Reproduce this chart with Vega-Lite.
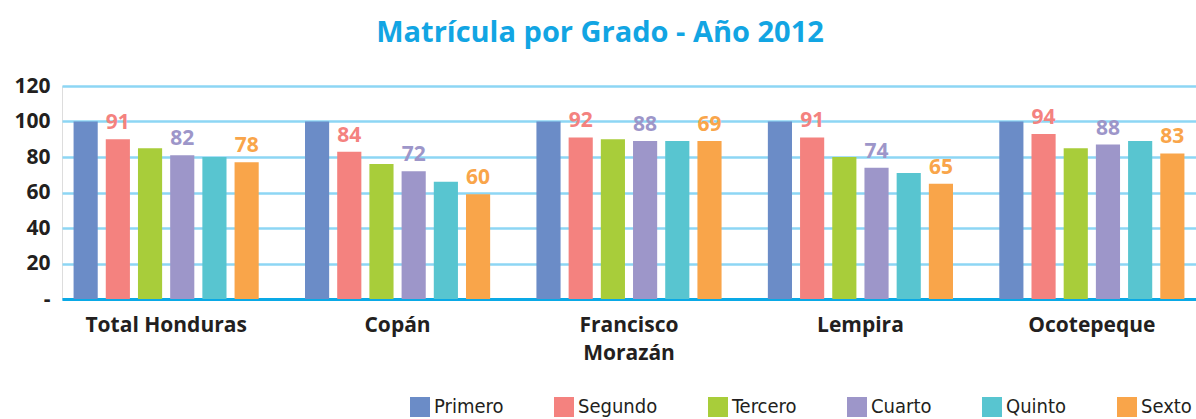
{
  "$schema": "https://vega.github.io/schema/vega-lite/v6.json",
  "autosize": {"type": "none"},
  "padding": {"left": 62, "top": 86, "right": 0, "bottom": 120},
  "width": 1134,
  "height": 213,
  "background": "white",
  "title": {"text": "Matrícula por Grado - Año 2012", "font": "Open Sans", "fontSize": 29, "fontWeight": "bold", "color": "#12a5e3", "anchor": "middle", "dx": -29, "offset": 27},
  "data": {"values": [
    {"region": "Total Honduras", "grado": "Primero", "valor": 100, "etiqueta": null},
    {"region": "Total Honduras", "grado": "Segundo", "valor": 90, "etiqueta": "91"},
    {"region": "Total Honduras", "grado": "Tercero", "valor": 85, "etiqueta": null},
    {"region": "Total Honduras", "grado": "Cuarto", "valor": 81, "etiqueta": "82"},
    {"region": "Total Honduras", "grado": "Quinto", "valor": 80, "etiqueta": null},
    {"region": "Total Honduras", "grado": "Sexto", "valor": 77, "etiqueta": "78"},
    {"region": "Copán", "grado": "Primero", "valor": 100, "etiqueta": null},
    {"region": "Copán", "grado": "Segundo", "valor": 83, "etiqueta": "84"},
    {"region": "Copán", "grado": "Tercero", "valor": 76, "etiqueta": null},
    {"region": "Copán", "grado": "Cuarto", "valor": 72, "etiqueta": "72"},
    {"region": "Copán", "grado": "Quinto", "valor": 66, "etiqueta": null},
    {"region": "Copán", "grado": "Sexto", "valor": 59, "etiqueta": "60"},
    {"region": "Francisco Morazán", "grado": "Primero", "valor": 100, "etiqueta": null},
    {"region": "Francisco Morazán", "grado": "Segundo", "valor": 91, "etiqueta": "92"},
    {"region": "Francisco Morazán", "grado": "Tercero", "valor": 90, "etiqueta": null},
    {"region": "Francisco Morazán", "grado": "Cuarto", "valor": 89, "etiqueta": "88"},
    {"region": "Francisco Morazán", "grado": "Quinto", "valor": 89, "etiqueta": null},
    {"region": "Francisco Morazán", "grado": "Sexto", "valor": 89, "etiqueta": "69"},
    {"region": "Lempira", "grado": "Primero", "valor": 100, "etiqueta": null},
    {"region": "Lempira", "grado": "Segundo", "valor": 91, "etiqueta": "91"},
    {"region": "Lempira", "grado": "Tercero", "valor": 80, "etiqueta": null},
    {"region": "Lempira", "grado": "Cuarto", "valor": 74, "etiqueta": "74"},
    {"region": "Lempira", "grado": "Quinto", "valor": 71, "etiqueta": null},
    {"region": "Lempira", "grado": "Sexto", "valor": 65, "etiqueta": "65"},
    {"region": "Ocotepeque", "grado": "Primero", "valor": 100, "etiqueta": null},
    {"region": "Ocotepeque", "grado": "Segundo", "valor": 93, "etiqueta": "94"},
    {"region": "Ocotepeque", "grado": "Tercero", "valor": 85, "etiqueta": null},
    {"region": "Ocotepeque", "grado": "Cuarto", "valor": 87, "etiqueta": "88"},
    {"region": "Ocotepeque", "grado": "Quinto", "valor": 89, "etiqueta": null},
    {"region": "Ocotepeque", "grado": "Sexto", "valor": 82, "etiqueta": "83"}
  ]},
  "encoding": {
    "x": {"field": "region", "type": "nominal", "sort": ["Total Honduras", "Copán", "Francisco Morazán", "Lempira", "Ocotepeque"],
      "scale": {"paddingInner": 0.2, "paddingOuter": 0.05},
      "axis": {"title": null, "labelAngle": 0, "domain": true, "domainColor": "#0aa9e6", "domainWidth": 3, "ticks": false,
        "labelFont": "Open Sans", "labelFontSize": 21, "labelFontWeight": "bold", "labelColor": "#231f20", "labelPadding": 15, "labelLineHeight": 28,
        "labelExpr": "datum.value == 'Francisco Morazán' ? ['Francisco', 'Morazán'] : datum.label"}},
    "xOffset": {"field": "grado", "type": "nominal", "sort": ["Primero", "Segundo", "Tercero", "Cuarto", "Quinto", "Sexto"],
      "scale": {"paddingInner": 0.25, "paddingOuter": 0}},
    "y": {"field": "valor", "type": "quantitative", "scale": {"domain": [0, 120], "nice": false},
      "axis": {"title": null, "values": [0, 20, 40, 60, 80, 100, 120], "domain": false, "ticks": false, "grid": true, "gridColor": "#8dd6f4", "gridWidth": 2.5,
        "labelFont": "Open Sans", "labelFontSize": 21, "labelFontWeight": "bold", "labelColor": "#231f20", "labelPadding": 12,
        "labelExpr": "datum.value == 0 ? '-' : datum.label"}},
    "color": {"field": "grado", "type": "nominal",
      "scale": {"domain": ["Primero", "Segundo", "Tercero", "Cuarto", "Quinto", "Sexto"], "range": ["#6b8cc7", "#f4827f", "#a8cd3a", "#9d96c9", "#58c5d0", "#f9a54a"]}}
  },
  "layer": [
    {"mark": {"type": "bar"},
     "encoding": {"color": {"field": "grado", "type": "nominal", "sort": ["Primero", "Segundo", "Tercero", "Cuarto", "Quinto", "Sexto"],
       "legend": {"orient": "none", "legendX": 348, "legendY": 311, "direction": "horizontal", "columns": 6, "title": null,
         "symbolType": "square", "symbolSize": 400, "symbolStrokeWidth": 0, "symbolOpacity": 1,
         "labelFont": "DejaVu Sans Condensed, Roboto, sans-serif", "labelFontSize": 20, "labelColor": "#231f20", "labelOffset": 4, "columnPadding": 50}}}},
    {"transform": [{"filter": "datum.etiqueta != null"}],
     "mark": {"type": "text", "font": "Open Sans", "fontSize": 21, "fontWeight": "bold", "baseline": "alphabetic", "dy": -10},
     "encoding": {"text": {"field": "etiqueta"}, "color": {"field": "grado", "type": "nominal", "legend": null}}}
  ]
}
